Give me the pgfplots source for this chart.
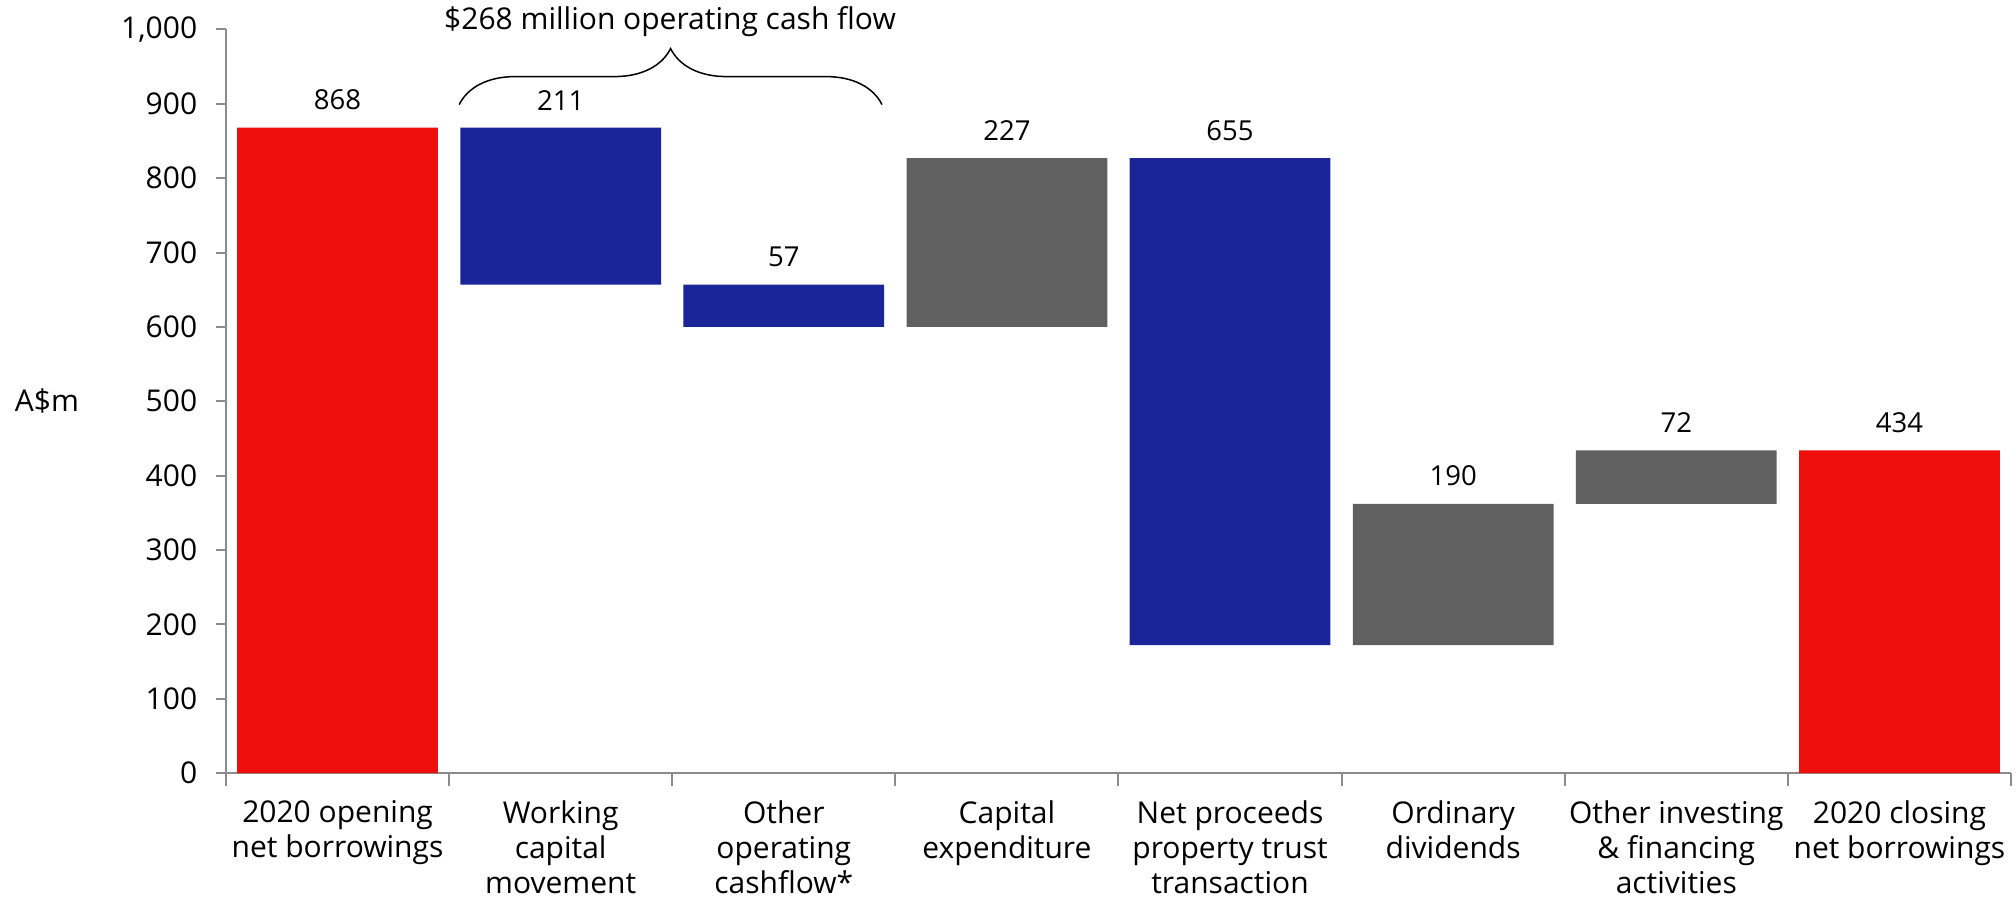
\documentclass[border=0pt]{standalone}
\usepackage{fontspec}
\setmainfont{Open Sans}
\usepackage{pgfplots}
\usepackage{pgfplotstable}
\pgfplotsset{compat=1.18}
\usetikzlibrary{calc,decorations.pathreplacing}
\definecolor{wred}{HTML}{EE0E0B}
\definecolor{wblue}{HTML}{1A259A}
\definecolor{wgray}{HTML}{606060}
\definecolor{axgray}{HTML}{8C8C8C}
\pgfplotstableread{
x base red blue gray top lab
0 0 868 0 0 868 868
1 657 0 211 0 868 211
2 600 0 57 0 657 57
3 600 0 0 227 827 227
4 172 0 655 0 827 655
5 172 0 0 190 362 190
6 362 0 0 72 434 72
7 0 434 0 0 434 434
}\data
\begin{document}
\begin{tikzpicture}[font=\fontsize{12}{14}\selectfont]
\begin{axis}[
  scale only axis,
  width=714pt, height=297.4pt,
  ybar stacked, bar width=0.9,
  xmin=-0.5, xmax=7.5, ymin=0, ymax=1000,
  axis lines*=left,
  axis line style={axgray, line width=0.8pt},
  clip=false,
  xtick={0,...,7},
  xticklabels={{2020 opening\\net borrowings},{Working\\capital\\movement},{Other\\operating\\cashflow*},{Capital\\expenditure},{Net proceeds\\property trust\\transaction},{Ordinary\\dividends},{Other investing\\\& financing\\activities},{2020 closing\\net borrowings}},
  xticklabel style={align=center, anchor=north, font=\fontsize{12}{14}\selectfont, yshift=-3.5pt},
  major x tick style={draw=none},
  minor xtick={-0.5,0.5,...,7.5},
  minor x tick style={axgray, line width=0.8pt},
  ytick={0,100,...,1000},
  y tick style={axgray, line width=0.8pt},
  tick align=outside,
  major tick length=4pt, minor tick length=5pt,
  yticklabel style={/pgf/number format/1000 sep={,}, /pgf/number format/assume math mode=true, font=\fontsize{12}{14}\selectfont, xshift=-4pt},
  ylabel={A\$m},
  every axis y label/.style={at={(rel axis cs:0,0.5)}, anchor=center, xshift=-71.6pt, font=\fontsize{12}{14}\selectfont},
]
\addplot[draw=none, fill=none] table[x=x, y=base] {\data};
\addplot[draw=none, fill=wred] table[x=x, y=red] {\data};
\addplot[draw=none, fill=wblue] table[x=x, y=blue] {\data};
\addplot[draw=none, fill=wgray] table[x=x, y=gray] {\data};
\coordinate (O) at (rel axis cs:0,0);
\draw[decorate, decoration={brace, amplitude=22.4pt}, line width=0.6pt] (axis cs:0.545,899) -- (axis cs:2.44,899);
\node[font=\fontsize{12}{14}\selectfont] at (axis cs:1.49,1011) {\$268 million operating cash flow};
\end{axis}
\begin{axis}[
  scale only axis,
  width=714pt, height=297.4pt,
  xmin=-0.5, xmax=7.5, ymin=0, ymax=1000,
  hide axis, clip=false,
]
\addplot[only marks, mark=none, nodes near coords, point meta=explicit symbolic,
  nodes near coords style={anchor=south, yshift=3.5pt, font=\fontsize{11}{14}\selectfont, text=black}]
  table[x=x, y=top, meta=lab] {\data};
\end{axis}
\pgfresetboundingbox
\path[use as bounding box] ($(O)+(-90.4pt,-50pt)$) rectangle ($(O)+(716pt,309.2pt)$);
\end{tikzpicture}
\end{document}
